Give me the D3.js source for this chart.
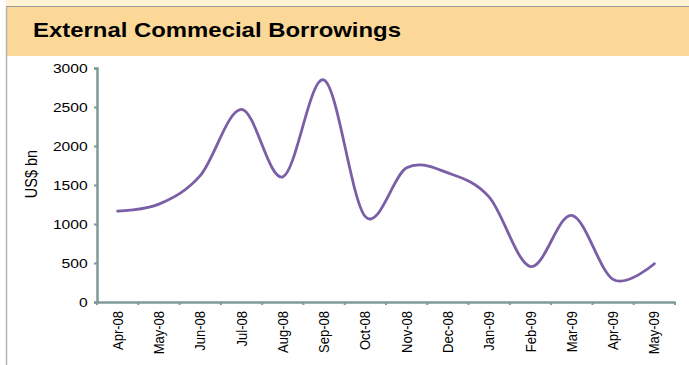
<!DOCTYPE html>
<html><head><meta charset="utf-8">
<script src="https://cdn.jsdelivr.net/npm/d3@7"></script>
<style>html,body{margin:0;padding:0;background:#fff;}svg{display:block;}</style>
</head><body>
<script>
const categories = ["Apr-08","May-08","Jun-08","Jul-08","Aug-08","Sep-08","Oct-08","Nov-08","Dec-08","Jan-09","Feb-09","Mar-09","Apr-09","May-09"];
const values = [1165, 1255, 1620, 2470, 1605, 2845, 1095, 1720, 1655, 1345, 455, 1110, 290, 490];
const yTicks = [0, 500, 1000, 1500, 2000, 2500, 3000];
const title = "External Commecial Borrowings";
const yLabel = "US$ bn";

const W = 689, H = 365;
const svg = d3.select("body").append("svg").attr("width", W).attr("height", H);
const font = "'Liberation Sans', Arial, sans-serif";

// background strips
svg.append("rect").attr("x",0).attr("y",0).attr("width",W).attr("height",7).attr("fill","#FEF3D2");
svg.append("rect").attr("x",0).attr("y",0).attr("width",6).attr("height",H).attr("fill","#fff");
svg.append("rect").attr("x",6).attr("y",7).attr("width",W-6).attr("height",49).attr("fill","#FBD898");
svg.append("line").attr("x1",6).attr("x2",W).attr("y1",6.5).attr("y2",6.5).attr("stroke","#9a9a9a").attr("stroke-width",1);
svg.append("line").attr("x1",6.5).attr("x2",6.5).attr("y1",7).attr("y2",H).attr("stroke","#b5b5b5").attr("stroke-width",1.5);

svg.append("text").attr("x",33).attr("y",37).text(title)
  .attr("font-family",font).attr("font-weight","bold").attr("font-size",20.5).attr("fill","#000")
  .attr("textLength",368).attr("lengthAdjust","spacingAndGlyphs");

const x = d3.scaleBand().domain(categories).range([97, 675]);
const y = d3.scaleLinear().domain([0, 3000]).range([302, 68]);

const axisColor = "#7F9A98";

// y axis
const ya = svg.append("g").attr("transform","translate(97,0)")
  .call(d3.axisLeft(y).tickValues(yTicks).tickSize(3).tickPadding(5).tickFormat(d3.format("d")));
ya.select(".domain").attr("stroke",axisColor).attr("stroke-width",2.5);
ya.selectAll(".tick line").attr("stroke",axisColor).attr("stroke-width",2);
ya.selectAll(".tick text").attr("font-family",font).attr("font-size",13.5).attr("fill","#000")
  .attr("x",-8).attr("transform","scale(1.16,1)");

// x axis
const xa = svg.append("g").attr("transform","translate(0,302)")
  .call(d3.axisBottom(x).tickSize(0).tickPadding(0));
xa.select(".domain").attr("stroke",axisColor).attr("stroke-width",2.5);
xa.selectAll(".tick text").attr("font-family",font).attr("font-size",13).attr("fill","#000")
  .attr("transform","rotate(-90) scale(1,1.12)").attr("text-anchor","end").attr("dy","0.35em").attr("x",-9).attr("y",0);
const bounds = categories.map(c => x(c)).concat([x.range()[1]]);
xa.selectAll(".bnd").data(bounds).enter().append("line").attr("class","bnd")
  .attr("x1",d=>d).attr("x2",d=>d).attr("y1",0).attr("y2",3).attr("stroke",axisColor).attr("stroke-width",2);

// y label
svg.append("text").attr("transform","translate(37,174) rotate(-90) scale(1,1.12)").attr("text-anchor","middle")
  .attr("font-family",font).attr("font-size",14.5).attr("fill","#000").text(yLabel);

// line
const line = d3.line().x((d,i)=>x(categories[i]) + x.bandwidth()/2).y(d=>y(d)).curve(d3.curveCardinal.tension(0));
svg.append("path").datum(values).attr("d",line).attr("fill","none").attr("stroke","#7A5EA6").attr("stroke-width",2.8).attr("stroke-linecap","round");
</script>
</body></html>
